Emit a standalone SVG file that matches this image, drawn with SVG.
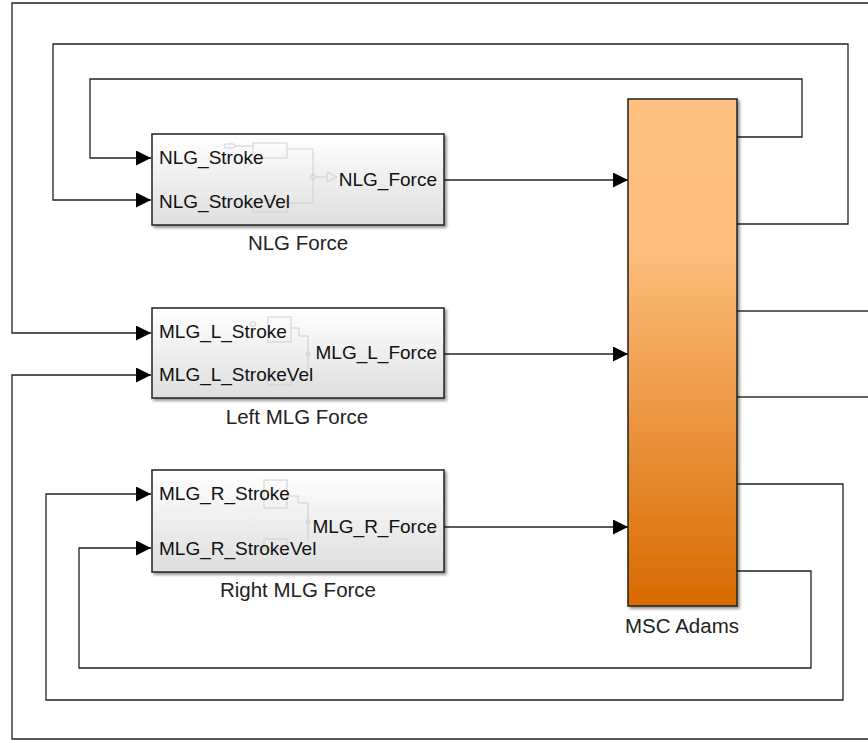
<svg xmlns="http://www.w3.org/2000/svg" width="868" height="740" viewBox="0 0 868 740">
<defs>
  <linearGradient id="blk" x1="0" y1="0" x2="0" y2="1">
    <stop offset="0" stop-color="#ffffff"/>
    <stop offset="1" stop-color="#dedede"/>
  </linearGradient>
  <linearGradient id="adams" x1="0" y1="0" x2="0" y2="1">
    <stop offset="0" stop-color="#ffc180"/>
    <stop offset="0.3" stop-color="#fdbd7b"/>
    <stop offset="1" stop-color="#d86a00"/>
  </linearGradient>
  <filter id="sh" x="-10%" y="-10%" width="130%" height="130%">
    <feGaussianBlur in="SourceAlpha" stdDeviation="1.5"/>
    <feOffset dx="2" dy="2" result="b"/>
    <feComponentTransfer><feFuncA type="linear" slope="0.45"/></feComponentTransfer>
    <feMerge><feMergeNode/><feMergeNode in="SourceGraphic"/></feMerge>
  </filter>
  <marker id="arr" viewBox="0 0 15 15" refX="15" refY="7.5" markerWidth="15" markerHeight="15" markerUnits="userSpaceOnUse" orient="auto">
    <path d="M0,0 L15,7.5 L0,15 Z" fill="#000"/>
  </marker>
</defs>
<style>
  .blk { fill: url(#blk); stroke: #222; stroke-width: 1.5; filter: url(#sh); }
  .ad { fill: url(#adams); stroke: #222; stroke-width: 1.5; filter: url(#sh); }
  .t { font-family: "Liberation Sans", Arial, sans-serif; font-size: 19px; fill: #111; }
  .lbl { font-family: "Liberation Sans", Arial, sans-serif; font-size: 20.5px; fill: #222; text-anchor: middle; }
  .ln { fill: none; stroke: #333; stroke-width: 1.3; }
  .ar { fill: none; stroke: #222; stroke-width: 1.3; marker-end: url(#arr); }
  .in { fill: none; stroke: #cfcfcf; stroke-width: 1; }
</style>
<rect width="868" height="740" fill="#fff"/>

<g id="connectors">
  <path class="ar" d="M444,180 H628"/>
  <path class="ar" d="M444,354 H628"/>
  <path class="ar" d="M444,527 H628"/>
  <path class="ar" d="M737,137 H802 V79 H90 V158 H151"/>
  <path class="ar" d="M737,224 H848 V44 H53 V200 H151"/>
  <path class="ln" d="M737,311 H868"/>
  <path class="ln" d="M737,397 H868"/>
  <path class="ar" d="M868,3 H12 V333 H151"/>
  <path class="ar" d="M868,739 H12 V375 H151"/>
  <path class="ar" d="M737,484 H843 V700 H46 V494 H151"/>
  <path class="ar" d="M737,571 H811 V668 H79 V548 H151"/>
</g>

<g id="nlg">
  <rect class="blk" x="152" y="134" width="292" height="91"/>
  <g class="in">
    <rect x="224" y="144" width="11" height="4" rx="2"/>
    <path d="M235,146 H253"/>
    <rect x="253" y="143" width="34" height="15"/>
    <path d="M287,149 H313 V203 H287"/>
    <rect x="253" y="200" width="34" height="12"/>
    <circle cx="313" cy="177" r="2.5"/>
    <path d="M315.5,177 H327 M327,172 L337,177 L327,182 Z"/>
  </g>
  <text class="t" x="159" y="164">NLG_Stroke</text>
  <text class="t" x="159" y="208">NLG_StrokeVel</text>
  <text class="t" x="437" y="186" text-anchor="end">NLG_Force</text>
  <text class="lbl" x="298" y="250">NLG Force</text>
</g>

<g id="left-mlg">
  <rect class="blk" x="152" y="308" width="292" height="90"/>
  <g class="in">
    <rect x="250" y="322" width="6" height="4" rx="2"/>
    <rect x="268" y="317" width="23" height="25"/>
    <path d="M291,328 H299 V336 H308 V372"/>
    <rect x="268" y="372" width="23" height="13"/>
    <circle cx="308" cy="354" r="2"/>
  </g>
  <text class="t" x="159" y="338">MLG_L_Stroke</text>
  <text class="t" x="159" y="381">MLG_L_StrokeVel</text>
  <text class="t" x="437" y="359" text-anchor="end">MLG_L_Force</text>
  <text class="lbl" x="297" y="424">Left MLG Force</text>
</g>

<g id="right-mlg">
  <rect class="blk" x="152" y="470" width="292" height="102"/>
  <g class="in">
    <rect x="264" y="480" width="23" height="28"/>
    <path d="M287,496 H298 V503 H308 V540"/>
    <rect x="264" y="539" width="23" height="10"/>
    <circle cx="308" cy="522" r="2"/>
  </g>
  <text class="t" x="159" y="500">MLG_R_Stroke</text>
  <text class="t" x="159" y="555">MLG_R_StrokeVel</text>
  <text class="t" x="437" y="533" text-anchor="end">MLG_R_Force</text>
  <text class="lbl" x="298" y="597">Right MLG Force</text>
</g>

<g id="msc-adams">
  <rect class="ad" x="628" y="99" width="109" height="507"/>
  <text class="lbl" x="682" y="633">MSC Adams</text>
</g>
</svg>
